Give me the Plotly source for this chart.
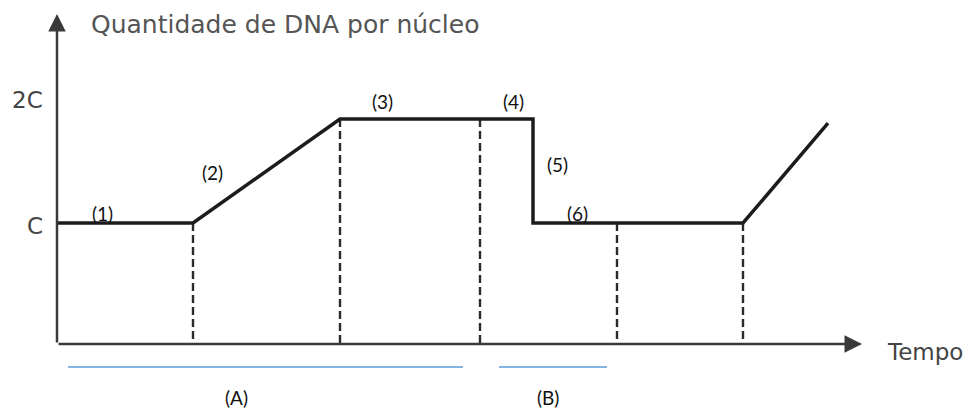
import plotly.graph_objects as go

# DNA content per nucleus over time (units of C)
time_points = [0, 13.6, 28.3, 47.6, 47.6, 68.6, 77.1]
dna_amount = [1, 1, 2, 2, 1, 1, 1.96]

# phase boundaries (dashed guides) and the DNA level where each one meets the curve
phase_bounds = [13.6, 28.3, 42.3, 56.0, 68.6]
phase_levels = [1, 2, 2, 1, 1]

# stage numbers along the curve
stage_labels = ["(1)", "(2)", "(3)", "(4)", "(5)", "(6)"]
stage_x = [4.5, 15.5, 32.5, 45.6, 50.0, 52.0]
stage_y = [1.096, 1.49, 2.173, 2.173, 1.558, 1.096]

# period brackets under the time axis
period_labels = ["(A)", "(B)"]
period_start = [1.1, 44.2]
period_end = [40.6, 55.0]
period_label_x = [17.9, 49.1]

y_levels = [1, 2]
y_level_labels = ["C", "2C"]

axis_y = -0.1635
axis_x_end = 80.5
axis_y_end = 3.0096

fig = go.Figure()

# dashed phase boundaries
dx, dy = [], []
for b, lv in zip(phase_bounds, phase_levels):
    dx += [b, b, None]
    dy += [lv, axis_y, None]
fig.add_trace(go.Scatter(x=dx, y=dy, mode="lines",
                         line=dict(color="#2b2b2b", width=2.4, dash="8px,4px"),
                         hoverinfo="skip", showlegend=False))

# DNA curve
fig.add_trace(go.Scatter(x=time_points, y=dna_amount, mode="lines",
                         line=dict(color="#1c1c1c", width=3.5),
                         hoverinfo="skip", showlegend=False))

# period brackets
bx, by = [], []
for s, e in zip(period_start, period_end):
    bx += [s, e, None]
    by += [-0.3846, -0.3846, None]
fig.add_trace(go.Scatter(x=bx, y=by, mode="lines",
                         line=dict(color="#5b9bd5", width=1.5),
                         hoverinfo="skip", showlegend=False))

annotations = []
# axes with arrowheads
annotations.append(dict(x=0, y=axis_y_end, ax=0, ay=axis_y, xref="x", yref="y",
                        axref="x", ayref="y", text="", showarrow=True,
                        arrowhead=2, arrowsize=1.4, arrowwidth=2.5,
                        arrowcolor="#3a3a3a", standoff=0))
annotations.append(dict(x=axis_x_end, y=axis_y, ax=0, ay=axis_y, xref="x", yref="y",
                        axref="x", ayref="y", text="", showarrow=True,
                        arrowhead=2, arrowsize=1.4, arrowwidth=2.5,
                        arrowcolor="#3a3a3a", standoff=0))

title_font = dict(family="DejaVu Sans", size=25, color="#555555")
annotations.append(dict(x=3.2, y=2.905, xref="x", yref="y", text="Quantidade de DNA por núcleo",
                        showarrow=False, xanchor="left", yanchor="middle", font=title_font))
annotations.append(dict(x=82.8, y=axis_y, xref="x", yref="y", text="Tempo",
                        showarrow=False, xanchor="left", yanchor="middle", yshift=-8,
                        font=dict(family="DejaVu Sans", size=23, color="#444444")))

# level labels on the vertical axis
annotations.append(dict(x=-2.2, y=y_levels[0], xref="x", yref="y", text=y_level_labels[0],
                        showarrow=False, xanchor="center", yanchor="middle", yshift=-3,
                        font=dict(family="DejaVu Sans", size=23, color="#444444")))
annotations.append(dict(x=-1.2, y=y_levels[1], xref="x", yref="y", text=y_level_labels[1],
                        showarrow=False, xanchor="right", yanchor="middle", yshift=19,
                        font=dict(family="DejaVu Sans", size=23, color="#444444")))

label_font = dict(family="Lato", size=19, color="#111111")
for t, x, y in zip(stage_labels, stage_x, stage_y):
    annotations.append(dict(x=x, y=y, xref="x", yref="y", text=t, showarrow=False,
                            xanchor="center", yanchor="middle", font=label_font))
for t, x in zip(period_labels, period_label_x):
    annotations.append(dict(x=x, y=-0.673, xref="x", yref="y", text=t, showarrow=False,
                            xanchor="center", yanchor="middle", font=label_font))

fig.update_layout(
    width=970, height=408,
    margin=dict(l=0, r=0, t=0, b=0),
    paper_bgcolor="white", plot_bgcolor="white",
    xaxis=dict(range=[-5.7, 91.3], visible=False, fixedrange=True),
    yaxis=dict(range=[-0.7788, 3.1442], visible=False, fixedrange=True),
    annotations=annotations,
    showlegend=False,
)

fig.write_html("out.html")
